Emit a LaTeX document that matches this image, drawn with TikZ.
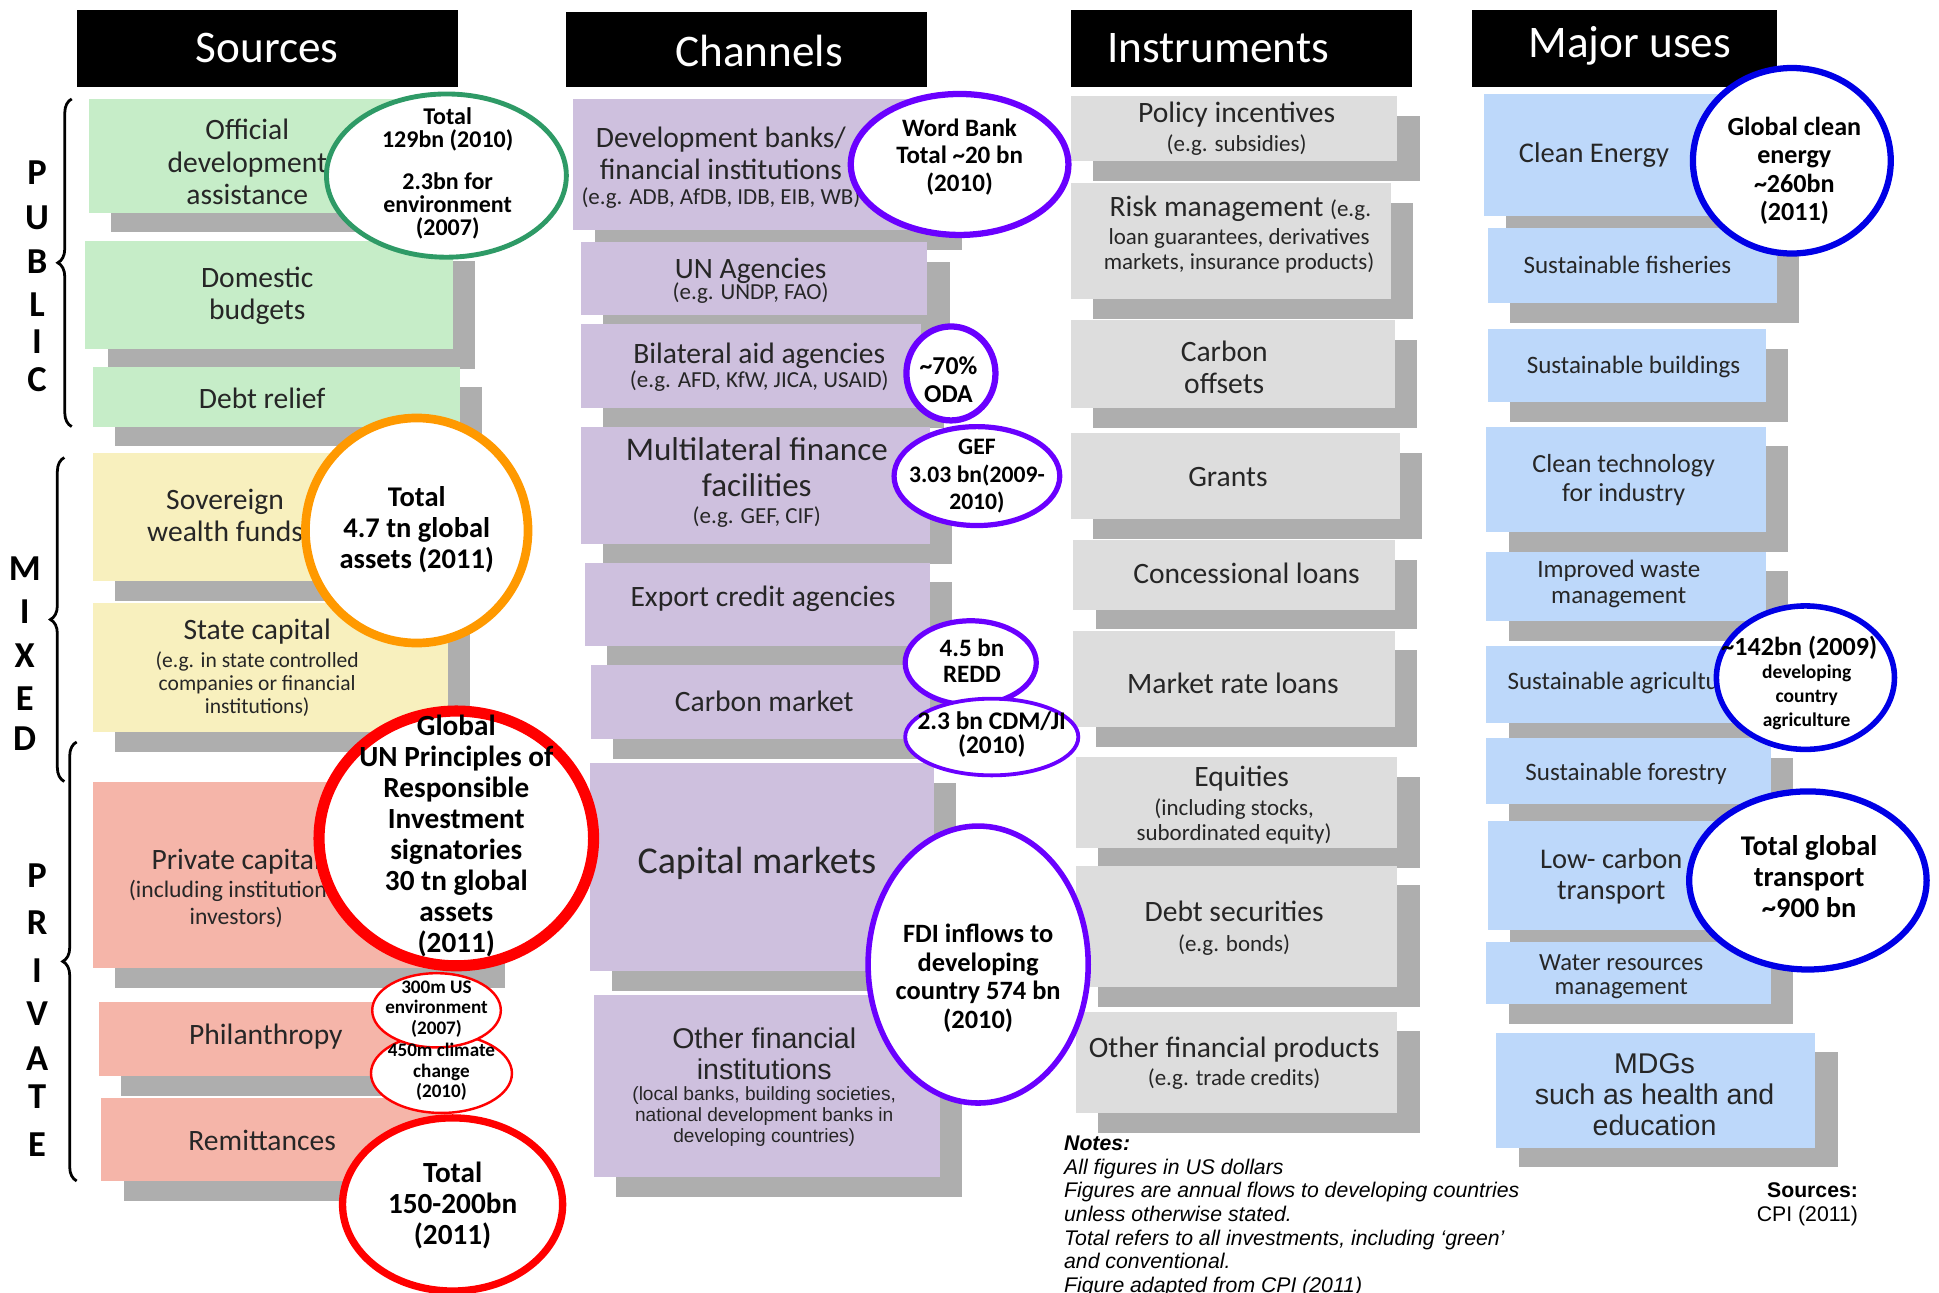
\documentclass[tikz,border=0pt]{standalone}
\usepackage{fontspec}
\setmainfont{Carlito}
\newfontfamily\arialfont{Liberation Sans}
\usetikzlibrary{decorations.pathreplacing}

\definecolor{pubfill}{HTML}{C6EDC8}
\definecolor{mixfill}{HTML}{F8F0BE}
\definecolor{privfill}{HTML}{F5B5A9}
\definecolor{chanfill}{HTML}{CEC0DE}
\definecolor{instfill}{HTML}{DDDDDD}
\definecolor{usefill}{HTML}{BDD8FA}
\definecolor{shadowgray}{HTML}{AEAEAE}
\definecolor{odagreen}{HTML}{2E9A66}
\definecolor{swforange}{HTML}{FF9900}
\definecolor{privred}{HTML}{FF0000}
\definecolor{chanviolet}{HTML}{6A00FF}
\definecolor{useblue}{HTML}{0000E6}
\definecolor{inktext}{HTML}{262626}

\newcommand{\fs}[2]{\fontsize{#1}{#2}\selectfont}
% box with its grey shadow: x1 y1 x2 y2 fill
\newcommand{\flowbox}[5]{%
  \fill[shadowgray] ({#1+\shx},{#2+\shy}) rectangle ({#3+\shx},{#4+\shy});
  \fill[#5] (#1,#2) rectangle (#3,#4);}

\tikzset{
  headtxt/.style={text=white, font=\fs{13}{15}, inner sep=0},
  boxtxt/.style={align=center, inner sep=0, text=inktext, font=\fs{8.5}{9.3}},
  subtxt/.style={align=center, inner sep=0, text=inktext, font=\fs{6.6}{7.2}},
  ringtxt/.style={align=center, inner sep=0, text=black, font=\bfseries\fs{7.5}{8.3}},
  ring/.style={draw=#1, fill=white},
  sidebrace/.style={decorate, decoration={brace, amplitude=4pt}, line width=0.8pt},
  sideletter/.style={inner sep=0, font=\bfseries\fs{10.5}{12}}
}

\begin{document}
\begin{tikzpicture}[x=0.0125cm, y=-0.0125cm]

\def\shx{18}
\def\shy{16}

\useasboundingbox (0,0) rectangle (1568,1045);

% column heads
\fill[black] (62,8) rectangle (370,70);
\node[headtxt] (hsrc) at (216,39) {Sources};
\fill[black] (458,10) rectangle (750,70);
\node[headtxt] (hchan) at (614,41) {Channels};
\fill[black] (866,8) rectangle (1142,70);
\node[headtxt] (hinst) at (985,39) {Instruments};
\fill[black] (1190,8) rectangle (1437,70);
\node[headtxt] (huse) at (1318,37) {Major uses};

% sources
\flowbox{72}{80}{360}{172}{pubfill}
\flowbox{69}{195}{366}{282}{pubfill}
\flowbox{75}{297}{372}{345}{pubfill}
\flowbox{75}{366}{350}{470}{mixfill}
\flowbox{75}{488}{362}{592}{mixfill}
\flowbox{75}{632}{390}{783}{privfill}
\flowbox{80}{810}{345}{870}{privfill}
\flowbox{82}{888}{360}{955}{privfill}

% channels
\flowbox{463}{80}{760}{186}{chanfill}
\flowbox{470}{196}{750}{255}{chanfill}
\flowbox{470}{262}{745}{330}{chanfill}
\flowbox{470}{345}{752}{440}{chanfill}
\flowbox{473}{455}{752}{522}{chanfill}
\flowbox{478}{538}{752}{598}{chanfill}
\flowbox{477}{617}{755}{785}{chanfill}
\flowbox{480}{805}{760}{952}{chanfill}

% instruments
\flowbox{866}{78}{1130}{130}{instfill}
\flowbox{866}{148}{1125}{242}{instfill}
\flowbox{866}{259}{1128}{330}{instfill}
\flowbox{866}{350}{1132}{420}{instfill}
\flowbox{868}{437}{1128}{493}{instfill}
\flowbox{868}{510}{1128}{588}{instfill}
\flowbox{870}{612}{1130}{686}{instfill}
\flowbox{870}{700}{1130}{798}{instfill}
\flowbox{870}{818}{1130}{900}{instfill}

% major uses
\flowbox{1200}{76}{1420}{175}{usefill}
\flowbox{1203}{184}{1437}{245}{usefill}
\flowbox{1203}{266}{1428}{325}{usefill}
\flowbox{1202}{345}{1428}{430}{usefill}
\flowbox{1202}{446}{1428}{502}{usefill}
\flowbox{1202}{522}{1420}{585}{usefill}
\flowbox{1202}{597}{1432}{650}{usefill}
\flowbox{1203}{664}{1420}{752}{usefill}
\flowbox{1202}{762}{1432}{812}{usefill}
\flowbox{1210}{835}{1468}{928}{usefill}

% box texts
\node[boxtxt] (oda) at (200,131) {Official\\development\\assistance};
\node[boxtxt] (dom) at (208,239) {Domestic\\budgets};
\node[boxtxt] (debt) at (212,322) {Debt relief};
\node[boxtxt] (swf) at (182,417) {Sovereign\\wealth funds};
\node[boxtxt] (state) at (208,511) {State capital};
\node[subtxt, font=\fs{6.2}{6.6}] (statenote) at (208,553) {(e.g. in state controlled\\companies or financial\\institutions)};
\node[boxtxt] (priv) at (191,697) {Private capital};
\node[subtxt, font=\fs{6.8}{7.5}] (privnote) at (191,731) {(including institutional\\investors)};
\node[boxtxt] (phil) at (215,838) {Philanthropy};
\node[boxtxt] (remit) at (212,922) {Remittances};

\node[boxtxt] (devbank) at (583,124) {Development banks/\\financial institutions};
\node[subtxt] (devnote) at (583,160) {(e.g. ADB, AfDB, IDB, EIB, WB)};
\node[boxtxt] (unag) at (607,219) {UN Agencies};
\node[subtxt] (unnote) at (607,237) {(e.g. UNDP, FAO)};
\node[boxtxt] (bilat) at (614,288) {Bilateral aid agencies};
\node[subtxt] (bilnote) at (614,308) {(e.g. AFD, KfW, JICA, USAID)};
\node[boxtxt, font=\fs{9.5}{10.3}] (multi) at (612,378) {Multilateral finance\\facilities};
\node[subtxt] (multinote) at (612,418) {(e.g. GEF, CIF)};
\node[boxtxt] (eca) at (617,484) {Export credit agencies};
\node[boxtxt] (carbon) at (618,567) {Carbon market};
\node[boxtxt, font=\fs{10.9}{12}] (capm) at (612,698) {Capital markets};
\node[boxtxt, font=\arialfont\fs{8.2}{8.9}] (ofi) at (618,852) {Other financial\\institutions};
\node[subtxt, font=\arialfont\fs{5.5}{6}] (ofinote) at (618,903) {(local banks, building societies,\\national development banks in\\developing countries)};

\node[boxtxt] (policy) at (1000,93) {Policy incentives};
\node[subtxt] (policynote) at (1000,117) {(e.g. subsidies)};
\node[boxtxt] (risk) at (1003,169) {Risk management {\fs{6.6}{7.2}(e.g.}};
\node[subtxt] (risknote) at (1002,203) {loan guarantees, derivatives\\markets, insurance products)};
\node[boxtxt] (offsets) at (990,297) {Carbon\\offsets};
\node[boxtxt] (grants) at (993,386) {Grants};
\node[boxtxt] (concl) at (1008,464) {Concessional loans};
\node[boxtxt] (mrl) at (997,553) {Market rate loans};
\node[boxtxt] (equity) at (1004,630) {Equities};
\node[subtxt] (eqnote) at (998,664) {(including stocks,\\subordinated equity)};
\node[boxtxt] (debtsec) at (998,737) {Debt securities};
\node[subtxt] (dsnote) at (998,764) {(e.g. bonds)};
\node[boxtxt] (ofp) at (998,849) {Other financial products};
\node[subtxt] (ofpnote) at (998,873) {(e.g. trade credits)};

\node[boxtxt, font=\fs{8.2}{9}] (clean) at (1289,125) {Clean Energy};
\node[boxtxt, font=\fs{7.2}{7.6}] (fish) at (1316,214) {Sustainable fisheries};
\node[boxtxt, font=\fs{7.2}{7.6}] (build) at (1321,297) {Sustainable buildings};
\node[boxtxt, font=\fs{7.5}{8.2}] (tech) at (1313,388) {Clean technology\\for industry};
\node[boxtxt, font=\fs{7.2}{7.5}] (waste) at (1309,472) {Improved waste\\management};
\node[boxtxt, font=\fs{7.2}{7.6}] (agri) at (1313,552) {Sustainable agriculture};
\node[boxtxt, font=\fs{7.2}{7.6}] (forest) at (1315,626) {Sustainable forestry};
\node[boxtxt, font=\fs{8.2}{8.9}] (lowc) at (1303,709) {Low- carbon\\transport};
\node[boxtxt, font=\fs{7.1}{6.8}] (water) at (1311,790) {Water resources\\management};
\node[boxtxt, font=\arialfont\fs{8.2}{8.9}] (mdg) at (1338,885) {MDGs\\such as health and\\education};

% side braces
\draw[sidebrace] (58,345) -- (58,80);
\draw[sidebrace] (52,632) -- (52,370);
\draw[sidebrace] (62,955) -- (62,600);
\foreach \l/\y in {P/140,U/176,B/212,L/246,I/276,C/307}
  \node[sideletter] (pub\l) at (30,\y) {\l};
\foreach \l/\y in {M/460,I/495,X/530,E/565,D/597}
  \node[sideletter] (mix\l) at (20,\y) {\l};
\foreach \l/\y [count=\i] in {P/708,R/746,I/785,V/820,A/856,T/887,E/926}
  \node[sideletter] (priv\i) at (30,\y) {\l};

% rings
\draw[ring=odagreen, line width=1.4pt] (361,142) ellipse [x radius=97, y radius=66];
\draw[ring=swforange, line width=2.5pt] (337,429) ellipse [x radius=90, y radius=91];
\draw[ring=privred, line width=3.2pt] (369,678) ellipse [x radius=111, y radius=103];
\draw[ring=privred, line width=0.7pt] (357,868) ellipse [x radius=57, y radius=32];
\draw[ring=privred, line width=0.7pt] (353,817) ellipse [x radius=52, y radius=30];
\draw[ring=privred, line width=2.1pt] (366,974) ellipse [x radius=89, y radius=70];

\draw[ring=chanviolet, line width=1.8pt] (776,133) ellipse [x radius=88, y radius=57];
\draw[ring=chanviolet, line width=1.8pt] (769,302) ellipse [x radius=36, y radius=38];
\draw[ring=chanviolet, line width=1.5pt] (790,385) ellipse [x radius=67, y radius=40];
\draw[ring=chanviolet, line width=1.5pt] (785,536) ellipse [x radius=53, y radius=34];
\draw[ring=chanviolet, line width=1.1pt] (802,596) ellipse [x radius=70, y radius=31];
\draw[ring=chanviolet, line width=1.6pt] (791,780) ellipse [x radius=89, y radius=112];

\draw[ring=useblue, line width=1.8pt] (1449,130) ellipse [x radius=80, y radius=75];
\draw[ring=useblue, line width=1.6pt] (1460,548) ellipse [x radius=72, y radius=58];
\draw[ring=useblue, line width=1.8pt] (1462,712) ellipse [x radius=96, y radius=72];

% ring texts
\node[ringtxt, font=\bfseries\fs{6.9}{6.6}] (odanum) at (362,140) {Total\\129bn (2010)\\[5.5pt]2.3bn for\\environment\\(2007)};
\node[ringtxt, font=\bfseries\fs{8.2}{8.9}] (swfnum) at (337,428) {Total\\4.7 tn global\\assets (2011)};
\node[ringtxt, font=\bfseries\fs{8.4}{8.9}] (prinum) at (369,676) {Global\\UN Principles of\\Responsible\\Investment\\signatories\\30 tn global\\assets\\(2011)};
\node[ringtxt, font=\bfseries\fs{5.5}{5.9}] (philnum) at (353,816) {300m US\\environment\\(2007)};
\node[ringtxt, font=\bfseries\fs{5.5}{5.9}] (climnum) at (357,867) {450m climate\\change\\(2010)};
\node[ringtxt, font=\bfseries\fs{8.4}{8.9}] (remnum) at (366,975) {Total\\150-200bn\\(2011)};

\node[ringtxt, font=\bfseries\fs{7.2}{7.8}] (wbnum) at (776,127) {Word Bank\\Total \textasciitilde20 bn\\(2010)};
\node[ringtxt, font=\bfseries\fs{7.4}{8.2}] (bilnum) at (767,307) {\textasciitilde70\%\\ODA};
\node[ringtxt, font=\bfseries\fs{6.8}{7.8}] (gefnum) at (790,385) {GEF\\3.03 bn(2009-\\2010)};
\node[ringtxt, font=\bfseries\fs{7.2}{7.5}] (reddnum) at (786,534) {4.5 bn\\REDD};
\node[ringtxt, font=\bfseries\fs{7.3}{7.1}] (cdmnum) at (802,594) {2.3 bn CDM/JI\\(2010)};
\node[ringtxt, font=\bfseries\fs{7.6}{8.2}] (fdinum) at (791,791) {FDI inflows to\\developing\\country 574 bn\\(2010)};

\node[ringtxt, font=\bfseries\fs{7.5}{8.2}] (cleannum) at (1451,138) {Global clean\\energy\\\textasciitilde260bn\\(2011)};
\node[ringtxt, font=\bfseries\fs{7.5}{8}] (agrinum) at (1455,524) {\textasciitilde142bn (2009)};
\node[ringtxt, font=\bfseries\fs{5.6}{6.8}] (agritxt) at (1461,564) {developing\\country\\agriculture};
\node[ringtxt, font=\bfseries\fs{8.2}{8.9}] (transnum) at (1463,709) {Total global\\transport\\\textasciitilde900 bn};

% notes and sources
\node[anchor=north west, align=left, inner sep=0, font=\arialfont\itshape\fs{6.1}{6.8}] (notes) at (860,918)
  {\textbf{Notes:}\\All figures in US dollars\\Figures are annual flows to developing countries\\unless otherwise stated.\\Total refers to all investments, including \textquoteleft green\textquoteright\\and conventional.\\Figure adapted from CPI (2011)};
\node[anchor=north east, align=right, inner sep=0, font=\arialfont\fs{6.1}{6.8}] (srcnote) at (1503,956)
  {\textbf{Sources:}\\CPI (2011)};

\end{tikzpicture}
\end{document}
